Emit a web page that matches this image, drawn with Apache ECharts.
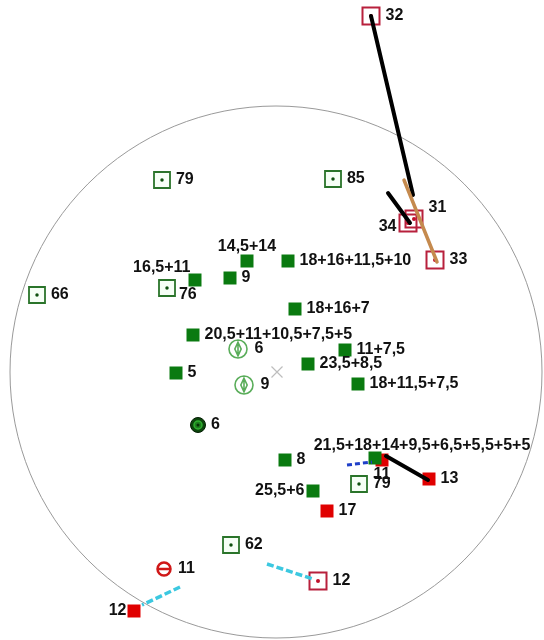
<!DOCTYPE html>
<html>
<head>
<meta charset="utf-8">
<script src="https://cdn.jsdelivr.net/npm/echarts@6/dist/echarts.min.js"></script>
<style>
  html, body { margin: 0; padding: 0; background: #fff; }
  #chart { width: 544px; height: 640px; }
</style>
</head>
<body>
<div id="chart"></div>
<script>
// plot units: origin at the centre of the net, y up
const netCentre = [0, 0];
const netRadius = 266;

// filled green squares
const greenFilledPts = [[-81, 92], [-46, 94], [-29, 111], [12, 111], [19, 63], [-83, 37],
  [69, 22], [32, 8], [-100, -1], [82, -12], [9, -88], [37, -119], [99, -86]];
const greenFilledLabels = ['16,5+11', '9', '14,5+14', '18+16+11,5+10', '18+16+7', '20,5+11+10,5+7,5+5',
  '11+7,5', '23,5+8,5', '5', '18+11,5+7,5', '8', '25,5+6', '21,5+18+14+9,5+6,5+5,5+5+5'];

// filled red squares
const redFilledPts = [[106, -88], [153, -107], [51, -139], [-142, -239]];
const redFilledLabels = ['11', '13', '17', '12'];

// open green squares
const greenOpenPts = [[-114, 192], [57, 193], [-239, 77], [-109, 84], [83, -112], [-45, -173]];
const greenOpenLabels = ['79', '85', '66', '76', '79', '62'];

// open red squares
const redOpenPts = [[95, 356], [138, 153], [132, 149], [159, 112], [42, -209]];
const redOpenLabels = ['32', '31', '34', '33', '12'];

// other symbols
const phiPts = [[-38, 23], [-32, -13]];
const phiLabels = ['6', '9'];
const darkRingPts = [[-78, -53]];
const darkRingLabels = ['6'];
const redBarPts = [[-112, -197]];
const redBarLabels = ['11'];
const centrePts = [[1, 0]];

// connecting segments
const blackSegs = [[[95, 356], [137, 177]], [[112, 179], [134, 149]], [[110, -84], [152, -108]]];
const orangeSegs = [[[128, 192], [161, 110]]];
const blueSegs = [[[71, -93], [96, -90]]];
const cyanSegs = [[[-9, -192], [37, -207]], [[-96, -215], [-134, -233]]];

// label placement exceptions
const labelTweaks = {
  'gf0': { position: 'left', distance: 5, offset: [7, -12] },
  'gf2': { position: 'top', distance: 0 },
  'gf11': { position: 'left', distance: 2 },
  'gf12': { position: 'top', distance: 0, offset: [47, 2] },
  'rf0': { position: 'bottom', distance: 0 },
  'rf3': { position: 'left', distance: 1 },
  'ro1': { position: 'right', distance: 5, offset: [0, -11] },
  'ro2': { position: 'left', distance: 2, offset: [0, 4] },
  'go3': { position: 'right', distance: 3, offset: [0, 7] }
};

const labelBase = {
  show: true, position: 'right', distance: 5,
  fontFamily: 'Liberation Sans, Arial, sans-serif', fontSize: 16, fontWeight: 'bold', color: '#111'
};

function withLabels(key, pts, labels) {
  return pts.map((p, i) => ({
    value: p,
    label: Object.assign({}, labelBase, { formatter: labels[i] }, labelTweaks[key + i] || {})
  }));
}

function scatter(data, symbol, size, itemStyle, z) {
  return {
    type: 'scatter', data, symbol, symbolSize: size, z: z || 2, silent: true,
    itemStyle: Object.assign({ opacity: 1 }, itemStyle)
  };
}

function segSeries(segs, color, width, type) {
  return segs.map(s => ({
    type: 'line', data: s, showSymbol: false, z: 4, silent: true,
    lineStyle: { color, width, type: type || 'solid', cap: type ? 'butt' : 'round', opacity: 1 }
  }));
}

const phiSymbol = 'path://M10,0A10,10 0 1,1 10,20A10,10 0 1,1 10,0ZM10,2.5L13.5,10L10,17.5L6.5,10ZM10,2.5L10,17.5';
const barSymbol = 'path://M10,0A10,10 0 1,1 10,20A10,10 0 1,1 10,0ZM2,10L18,10';
const crossSymbol = 'path://M0,0L10,10M10,0L0,10';

const chart = echarts.init(document.getElementById('chart'));
chart.setOption({
  animation: false,
  backgroundColor: '#fff',
  grid: { left: 0, right: 0, top: 0, bottom: 0 },
  xAxis: { type: 'value', min: -276, max: 268, show: false },
  yAxis: { type: 'value', min: -268, max: 372, show: false },
  series: [
    {
      type: 'custom', clip: false, silent: true, z: 1,
      data: [[netCentre[0], netCentre[1], netRadius]],
      renderItem: (params, api) => {
        const c = api.coord([api.value(0), api.value(1)]);
        const r = api.size([api.value(2), api.value(2)])[0];
        return { type: 'circle', shape: { cx: c[0], cy: c[1], r }, style: { fill: 'none', stroke: '#9a9a9a', lineWidth: 1 } };
      }
    },
    scatter(withLabels('rf', redFilledPts, redFilledLabels), 'rect', 13, { color: '#e00000' }),
    scatter(withLabels('gf', greenFilledPts, greenFilledLabels), 'rect', 13, { color: '#0a7a10' }),
    scatter(withLabels('go', greenOpenPts, greenOpenLabels), 'rect', 16,
      { color: '#f6fff6', borderColor: '#2a742a', borderWidth: 1.8 }),
    scatter(greenOpenPts, 'circle', 3.5, { color: '#0f500f' }, 3),
    scatter(withLabels('ro', redOpenPts, redOpenLabels), 'rect', 17,
      { color: 'rgba(255,255,255,0)', borderColor: '#b8203c', borderWidth: 2 }),
    scatter(redOpenPts, 'circle', 4, { color: '#c0102a' }, 3),
    scatter(withLabels('ph', phiPts, phiLabels), phiSymbol, 18,
      { color: 'none', borderColor: '#5aad5a', borderWidth: 1.6 }),
    scatter(withLabels('dr', darkRingPts, darkRingLabels), 'circle', 15,
      { color: '#0c460c', borderColor: '#041e04', borderWidth: 1 }),
    scatter(darkRingPts, 'circle', 8, { color: '#1f7f1f', borderColor: '#2fb02f', borderWidth: 1.5 }, 3),
    scatter(darkRingPts, 'circle', 3, { color: '#063006' }, 4),
    scatter(withLabels('rb', redBarPts, redBarLabels), barSymbol, 13,
      { color: 'none', borderColor: '#d01818', borderWidth: 2.5 }),
    scatter(centrePts, crossSymbol, 11, { color: 'none', borderColor: '#bdbdbd', borderWidth: 1.2 }),
    ...segSeries(blackSegs, '#000', 4),
    ...segSeries(orangeSegs, '#c58a4e', 3.5),
    ...segSeries(blueSegs, '#1f3fc8', 3, [5, 3]),
    ...segSeries(cyanSegs, '#3cc8e0', 3.5, [7, 3])
  ]
});
</script>
</body>
</html>
